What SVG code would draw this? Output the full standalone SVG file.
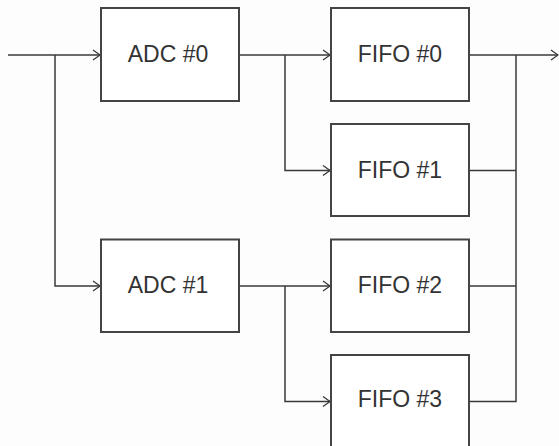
<svg xmlns="http://www.w3.org/2000/svg" width="559" height="446" viewBox="0 0 559 446">
<defs>
<style>
.box{fill:#ffffff;stroke:#444444;stroke-width:2}
.lbl{font-family:"Liberation Sans",Arial,sans-serif;font-size:23px;fill:#333333;text-anchor:middle}
.wire{fill:none;stroke:#3a3a3a;stroke-width:1.5}
</style>
<marker id="arr" markerWidth="10" markerHeight="12" refX="8" refY="6" orient="auto" markerUnits="userSpaceOnUse">
<path d="M1,1 L8,6 L1,11" fill="none" stroke="#3a3a3a" stroke-width="1.3"/>
</marker>
</defs>
<rect width="559" height="446" fill="#fdfdfd"/>
<g id="connectors">
<path class="wire" d="M8,55 H100" marker-end="url(#arr)"/>
<path class="wire" d="M55,55 V286 H100" marker-end="url(#arr)"/>
<path class="wire" d="M239,55 H330" marker-end="url(#arr)"/>
<path class="wire" d="M285,55 V170.5 H330" marker-end="url(#arr)"/>
<path class="wire" d="M239,286 H330" marker-end="url(#arr)"/>
<path class="wire" d="M285,286 V401.5 H330" marker-end="url(#arr)"/>
<path class="wire" d="M469,55 H558" marker-end="url(#arr)"/>
<path class="wire" d="M469,170.5 H516"/>
<path class="wire" d="M469,286 H516"/>
<path class="wire" d="M469,401.5 H516 V55"/>
</g>
<g id="adc0"><rect class="box" x="101" y="8" width="138" height="93"/><text class="lbl" x="168" y="62">ADC #0</text></g>
<g id="adc1"><rect class="box" x="101" y="239.5" width="138" height="92.5"/><text class="lbl" x="168" y="292.5">ADC #1</text></g>
<g id="fifo0"><rect class="box" x="331" y="8" width="138" height="93"/><text class="lbl" x="400" y="62">FIFO #0</text></g>
<g id="fifo1"><rect class="box" x="331" y="124" width="138" height="92"/><text class="lbl" x="400" y="177.5">FIFO #1</text></g>
<g id="fifo2"><rect class="box" x="331" y="239.5" width="138" height="92.5"/><text class="lbl" x="400" y="292.5">FIFO #2</text></g>
<g id="fifo3"><rect class="box" x="331" y="355" width="138" height="93"/><text class="lbl" x="400" y="407">FIFO #3</text></g>
</svg>
